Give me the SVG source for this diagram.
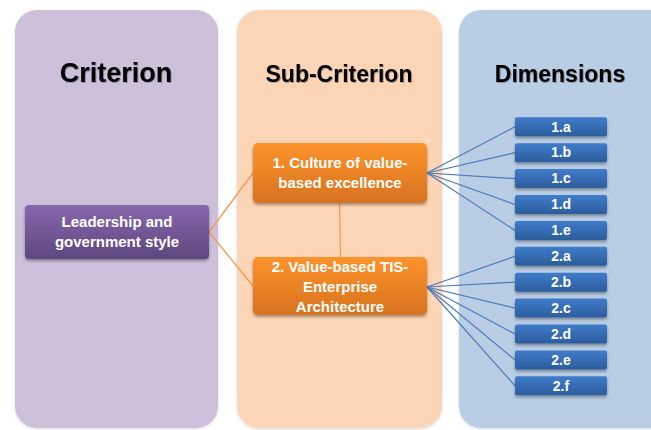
<svg xmlns="http://www.w3.org/2000/svg" width="651" height="430" viewBox="0 0 651 430">
  <defs>
    <linearGradient id="gPurple" x1="0" y1="0" x2="0" y2="1">
      <stop offset="0" stop-color="#8866AC"/>
      <stop offset="1" stop-color="#5E4880"/>
    </linearGradient>
    <linearGradient id="gOrange" x1="0" y1="0" x2="0" y2="1">
      <stop offset="0" stop-color="#FD932C"/>
      <stop offset="1" stop-color="#D8721F"/>
    </linearGradient>
    <linearGradient id="gBlue" x1="0" y1="0" x2="0" y2="1">
      <stop offset="0" stop-color="#3F7CCB"/>
      <stop offset="1" stop-color="#2C5D9C"/>
    </linearGradient>
    <filter id="shadow" x="-10%" y="-20%" width="120%" height="150%">
      <feDropShadow dx="0" dy="2" stdDeviation="1.5" flood-color="#000" flood-opacity="0.35"/>
    </filter>
    <filter id="panelShadow" x="-10%" y="-10%" width="120%" height="120%">
      <feDropShadow dx="0" dy="1" stdDeviation="1.5" flood-color="#000" flood-opacity="0.15"/>
    </filter>
    <filter id="textShadow" x="-10%" y="-20%" width="120%" height="150%">
      <feDropShadow dx="0.8" dy="0.8" stdDeviation="0.4" flood-color="#000" flood-opacity="0.35"/>
    </filter>
  </defs>
  <style>
    .title { font-family: "Liberation Sans", Arial, sans-serif; font-weight: bold; fill: #000; text-anchor: middle; }
    .label { font-family: "Liberation Sans", Arial, sans-serif; font-weight: bold; fill: #fff; text-anchor: middle; font-size: 15px; }
    .dim { font-family: "Liberation Sans", Arial, sans-serif; font-weight: bold; fill: #fff; text-anchor: middle; font-size: 14px; }
    .orangeLine { stroke: #F59A4E; stroke-width: 1.3; fill: none; }
    .blueLine { stroke: #4A7BBA; stroke-width: 1.2; fill: none; }
  </style>

  <rect width="651" height="430" fill="#fff"/>

  <!-- column panels -->
  <g id="panels" filter="url(#panelShadow)">
    <rect x="15" y="10" width="203" height="418" rx="22" fill="#CCC0DA"/>
    <rect x="237" y="10" width="205" height="418" rx="22" fill="#FBD5B5"/>
    <rect x="459" y="10" width="230" height="418" rx="22" fill="#B9CDE5"/>
  </g>

  <!-- column titles -->
  <g id="titles" filter="url(#textShadow)">
    <text class="title" x="116" y="82" font-size="27">Criterion</text>
    <text class="title" x="339" y="82" font-size="23">Sub-Criterion</text>
    <text class="title" x="560" y="82" font-size="23">Dimensions</text>
  </g>

  <!-- connectors -->
  <g id="connectors">
    <line class="orangeLine" x1="209" y1="232" x2="253" y2="173"/>
    <line class="orangeLine" x1="209" y1="232" x2="253" y2="286"/>
    <line class="orangeLine" x1="339.5" y1="203" x2="340.5" y2="257"/>

    <line class="blueLine" x1="427" y1="173" x2="515" y2="126.8"/>
    <line class="blueLine" x1="427" y1="173" x2="515" y2="152.7"/>
    <line class="blueLine" x1="427" y1="173" x2="515" y2="178.6"/>
    <line class="blueLine" x1="427" y1="173" x2="515" y2="204.5"/>
    <line class="blueLine" x1="427" y1="173" x2="515" y2="230.4"/>

    <line class="blueLine" x1="427" y1="287" x2="515" y2="256.3"/>
    <line class="blueLine" x1="427" y1="287" x2="515" y2="282.2"/>
    <line class="blueLine" x1="427" y1="287" x2="515" y2="308.1"/>
    <line class="blueLine" x1="427" y1="287" x2="515" y2="334.0"/>
    <line class="blueLine" x1="427" y1="287" x2="515" y2="359.9"/>
    <line class="blueLine" x1="427" y1="287" x2="515" y2="385.8"/>
  </g>

  <!-- criterion node -->
  <g id="node-leadership">
    <rect x="25" y="205" width="184" height="54" rx="4" fill="url(#gPurple)" filter="url(#shadow)"/>
    <text class="label" x="117" y="227">Leadership and</text>
    <text class="label" x="117" y="247">government style</text>
  </g>

  <!-- sub-criterion nodes -->
  <g id="node-culture">
    <rect x="253" y="143" width="174" height="60" rx="5" fill="url(#gOrange)" filter="url(#shadow)"/>
    <text class="label" x="340" y="168">1. Culture of value-</text>
    <text class="label" x="340" y="188">based excellence</text>
  </g>
  <g id="node-architecture">
    <rect x="253" y="257" width="174" height="58" rx="5" fill="url(#gOrange)" filter="url(#shadow)"/>
    <text class="label" x="340" y="272">2. Value-based TIS-</text>
    <text class="label" x="340" y="292">Enterprise</text>
    <text class="label" x="340" y="312">Architecture</text>
  </g>

  <!-- dimension nodes -->
  <g id="dim-1a"><rect x="515" y="117.3" width="92" height="19" rx="2" fill="url(#gBlue)" filter="url(#shadow)"/><text class="dim" x="561" y="131.5">1.a</text></g>
  <g id="dim-1b"><rect x="515" y="143.2" width="92" height="19" rx="2" fill="url(#gBlue)" filter="url(#shadow)"/><text class="dim" x="561" y="157.4">1.b</text></g>
  <g id="dim-1c"><rect x="515" y="169.1" width="92" height="19" rx="2" fill="url(#gBlue)" filter="url(#shadow)"/><text class="dim" x="561" y="183.3">1.c</text></g>
  <g id="dim-1d"><rect x="515" y="195.0" width="92" height="19" rx="2" fill="url(#gBlue)" filter="url(#shadow)"/><text class="dim" x="561" y="209.2">1.d</text></g>
  <g id="dim-1e"><rect x="515" y="220.9" width="92" height="19" rx="2" fill="url(#gBlue)" filter="url(#shadow)"/><text class="dim" x="561" y="235.1">1.e</text></g>
  <g id="dim-2a"><rect x="515" y="246.8" width="92" height="19" rx="2" fill="url(#gBlue)" filter="url(#shadow)"/><text class="dim" x="561" y="261.0">2.a</text></g>
  <g id="dim-2b"><rect x="515" y="272.7" width="92" height="19" rx="2" fill="url(#gBlue)" filter="url(#shadow)"/><text class="dim" x="561" y="286.9">2.b</text></g>
  <g id="dim-2c"><rect x="515" y="298.6" width="92" height="19" rx="2" fill="url(#gBlue)" filter="url(#shadow)"/><text class="dim" x="561" y="312.8">2.c</text></g>
  <g id="dim-2d"><rect x="515" y="324.5" width="92" height="19" rx="2" fill="url(#gBlue)" filter="url(#shadow)"/><text class="dim" x="561" y="338.7">2.d</text></g>
  <g id="dim-2e"><rect x="515" y="350.4" width="92" height="19" rx="2" fill="url(#gBlue)" filter="url(#shadow)"/><text class="dim" x="561" y="364.6">2.e</text></g>
  <g id="dim-2f"><rect x="515" y="376.3" width="92" height="19" rx="2" fill="url(#gBlue)" filter="url(#shadow)"/><text class="dim" x="561" y="390.5">2.f</text></g>
</svg>
